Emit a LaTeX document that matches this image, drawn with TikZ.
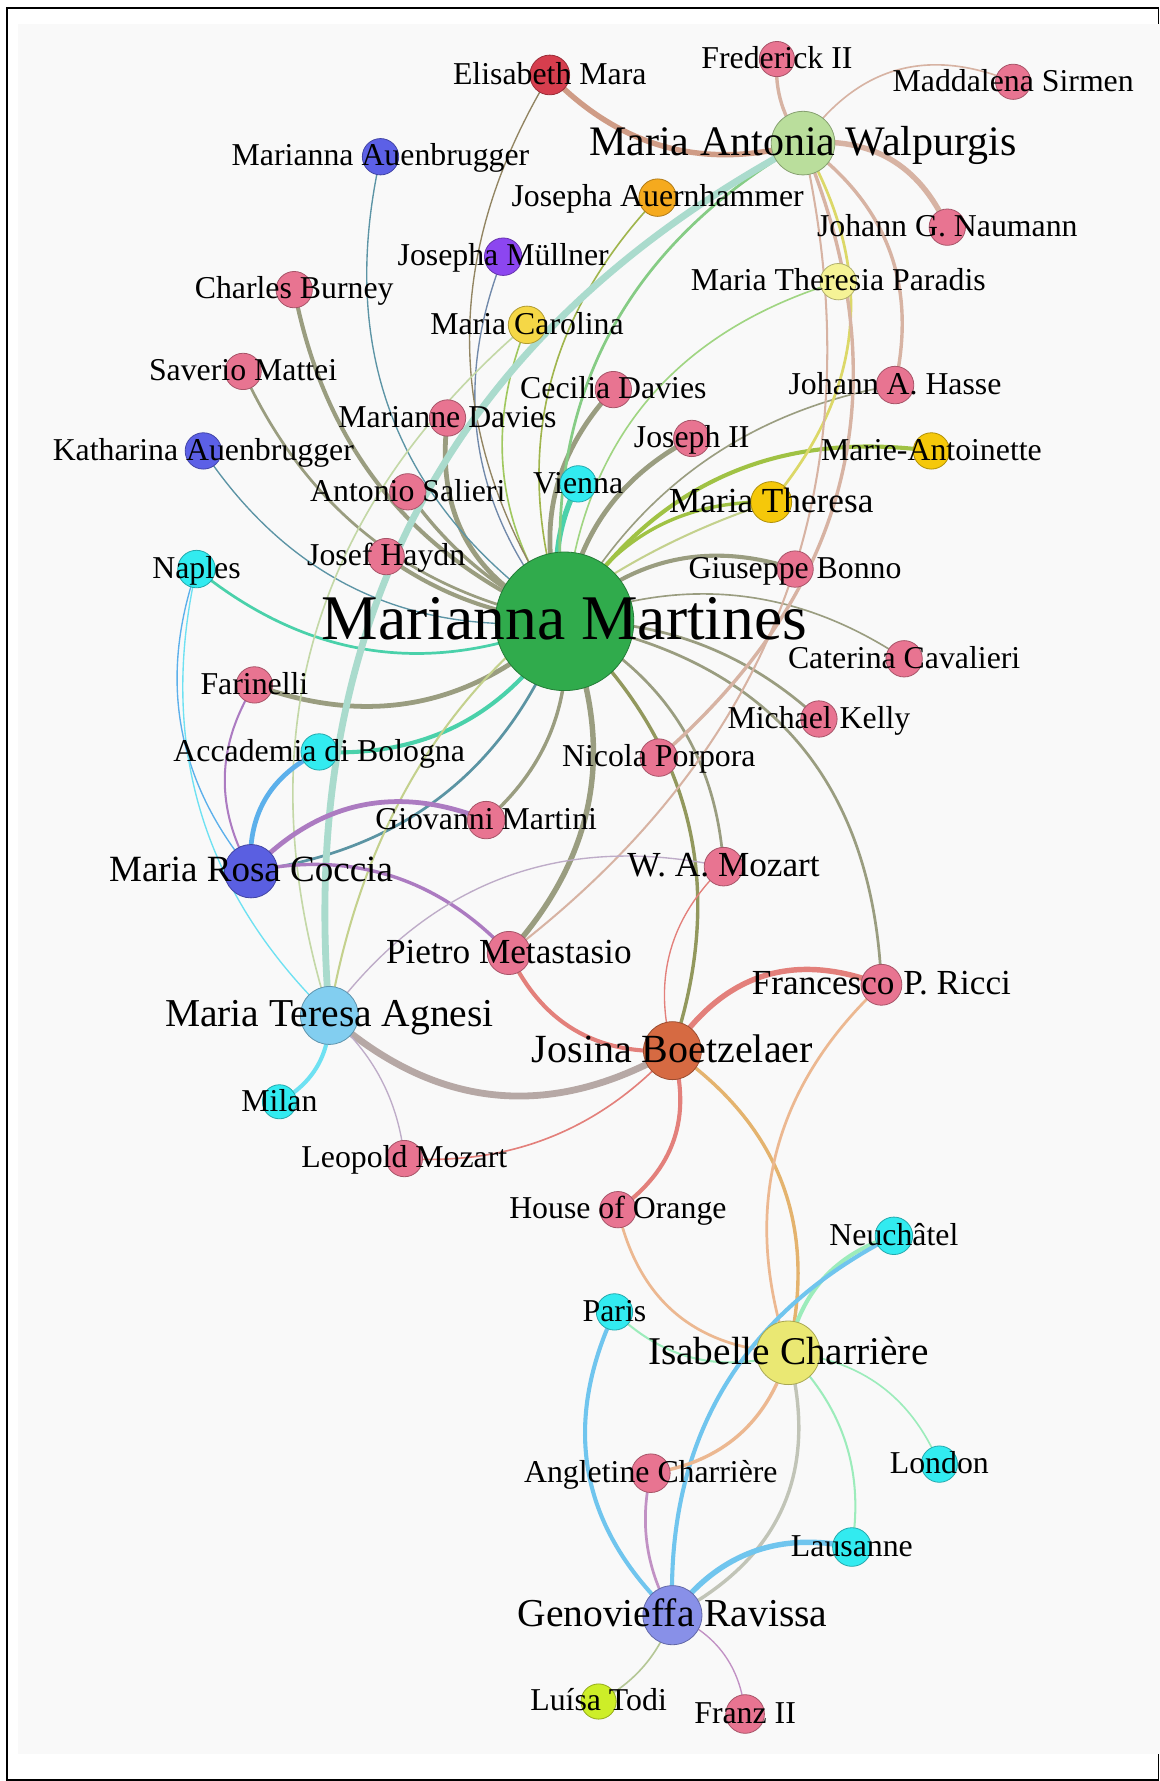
\documentclass[tikz,border=0pt]{standalone}
\usepackage{fontspec}
\setmainfont{Liberation Serif}
\usetikzlibrary{calc}
\pgfdeclarelayer{bg}\pgfdeclarelayer{edges}\pgfdeclarelayer{labels}
\pgfsetlayers{bg,edges,main,labels}

% node colours
\definecolor{cMM}{RGB}{48,171,76}
\definecolor{cPink}{RGB}{232,116,145}
\definecolor{cMAW}{RGB}{186,222,156}
\definecolor{cMara}{RGB}{214,62,78}
\definecolor{cBlue}{RGB}{92,96,230}
\definecolor{cCoccia}{RGB}{90,95,225}
\definecolor{cPurple}{RGB}{140,70,240}
\definecolor{cAuern}{RGB}{245,170,30}
\definecolor{cParadis}{RGB}{245,243,150}
\definecolor{cMC}{RGB}{245,215,70}
\definecolor{cGold}{RGB}{245,200,10}
\definecolor{cCyan}{RGB}{50,235,240}
\definecolor{cAgnesi}{RGB}{130,206,240}
\definecolor{cBoetz}{RGB}{214,106,66}
\definecolor{cChar}{RGB}{234,232,115}
\definecolor{cRav}{RGB}{136,144,232}
\definecolor{cTodi}{RGB}{205,238,40}
\definecolor{bgc}{RGB}{249,249,249}

\tikzset{
  vert/.style={circle, inner sep=0pt, line width=0.35pt},
  lab/.style={inner sep=0pt, text depth=0pt, text=black},
}

% \vtx{name}{x}{y}{radius}{colour}{font size}{label}
\newcommand\vtx[7]{%
  \colorlet{k#1}{#5}%
  \node[vert, minimum size=#4pt, fill=#5, draw=#5!72!black] (#1) at (#2,#3) {};
  \begin{pgfonlayer}{labels}
    \node[lab, text height={0.58*#6pt}, font={\fontsize{#6pt}{#6pt}\selectfont}] (#1-t) at (#2,#3) {#7};
  \end{pgfonlayer}}

% \lnk{width}{from}{to}{bend}: arc between two nodes, colour mixed from both ends
\newcommand\lnk[4]{%
  \path ($(#2.center)!0.5!(#3.center)!4*#4!90:(#3.center)$) coordinate (q);
  \draw[line width=#1*0.6pt, draw=k#2!50!k#3!88!white]
    (#2.center) .. controls ($(#2.center)!0.6667!(q)$) and ($(#3.center)!0.6667!(q)$) .. (#3.center);}

\begin{document}
\begin{tikzpicture}[x=0.5pt, y=-0.5pt]
\useasboundingbox (0,0) rectangle (1021,1568);
\begin{pgfonlayer}{bg}
  \fill[white] (0,0) rectangle (1021,1568);
  \draw[line width=0.8pt] (6.5,7) rectangle (1020,1567);
  \fill[bgc] (16,21) rectangle (1021,1544);
\end{pgfonlayer}

% people, places and institutions
\vtx{mm}{497}{547}{61}{cMM}{28}{Marianna Martines}
\vtx{maw}{707}{126}{28}{cMAW}{18.5}{Maria Antonia Walpurgis}
\vtx{mara}{484}{66}{17.5}{cMara}{14}{Elisabeth Mara}
\vtx{fred}{684}{52}{15.5}{cPink}{14}{Frederick II}
\vtx{sirmen}{892}{72}{15.5}{cPink}{14}{Maddalena Sirmen}
\vtx{mauen}{335}{138}{16}{cBlue}{14}{Marianna Auenbrugger}
\vtx{auern}{579}{174}{16.5}{cAuern}{14}{Josepha Auernhammer}
\vtx{naumann}{834}{200}{16}{cPink}{14}{Johann G. Naumann}
\vtx{muell}{443}{226}{16.5}{cPurple}{14}{Josepha Müllner}
\vtx{paradis}{738}{248}{16}{cParadis}{14}{Maria Theresia Paradis}
\vtx{burney}{259}{255}{16}{cPink}{14}{Charles Burney}
\vtx{mcar}{464}{286}{16.5}{cMC}{14}{Maria Carolina}
\vtx{mattei}{214}{327}{16}{cPink}{14}{Saverio Mattei}
\vtx{cdavies}{540}{343}{16}{cPink}{14}{Cecilia Davies}
\vtx{hasse}{788}{339}{16.5}{cPink}{14}{Johann A. Hasse}
\vtx{mdavies}{394}{368}{16}{cPink}{14}{Marianne Davies}
\vtx{kauen}{179}{397}{16}{cBlue}{14}{Katharina Auenbrugger}
\vtx{joseph}{609}{386}{16}{cPink}{14}{Joseph II}
\vtx{mant}{820}{397}{16}{cGold}{14}{Marie-Antoinette}
\vtx{salieri}{359}{433}{16}{cPink}{14}{Antonio Salieri}
\vtx{vienna}{509}{426}{16}{cCyan}{14}{Vienna}
\vtx{mt}{679}{442}{18}{cGold}{15.5}{Maria Theresa}
\vtx{haydn}{340}{490}{16}{cPink}{14}{Josef Haydn}
\vtx{naples}{173}{501}{16.5}{cCyan}{14}{Naples}
\vtx{bonno}{700}{501}{16}{cPink}{14}{Giuseppe Bonno}
\vtx{caval}{796}{580}{16}{cPink}{14}{Caterina Cavalieri}
\vtx{farin}{224}{603}{16}{cPink}{14}{Farinelli}
\vtx{kelly}{721}{633}{16}{cPink}{14}{Michael Kelly}
\vtx{bologna}{281}{662}{16}{cCyan}{14}{Accademia di Bologna}
\vtx{porpora}{580}{667}{16.5}{cPink}{14}{Nicola Porpora}
\vtx{martini}{428}{722}{16.5}{cPink}{14}{Giovanni Martini}
\vtx{coccia}{221}{767}{23.5}{cCoccia}{16.3}{Maria Rosa Coccia}
\vtx{wamoz}{637}{763}{17}{cPink}{15.5}{W. A. Mozart}
\vtx{metas}{448}{839}{19}{cPink}{15.5}{Pietro Metastasio}
\vtx{ricci}{776}{867}{18}{cPink}{15.5}{Francesco P. Ricci}
\vtx{agnesi}{290}{894}{25.5}{cAgnesi}{17.4}{Maria Teresa Agnesi}
\vtx{boetz}{592}{925}{25.5}{cBoetz}{17.6}{Josina Boetzelaer}
\vtx{milan}{246}{970}{15}{cCyan}{14}{Milan}
\vtx{lmoz}{356}{1020}{16}{cPink}{14}{Leopold Mozart}
\vtx{orange}{544}{1065}{16}{cPink}{14}{House of Orange}
\vtx{neuch}{787}{1088}{16.5}{cCyan}{14}{Neuchâtel}
\vtx{paris}{541}{1155}{16}{cCyan}{14}{Paris}
\vtx{char}{694}{1191}{28}{cChar}{17.3}{Isabelle Charrière}
\vtx{london}{827}{1289}{16}{cCyan}{14}{London}
\vtx{angl}{573}{1297}{17}{cPink}{14}{Angletine Charrière}
\vtx{laus}{750}{1362}{17}{cCyan}{14}{Lausanne}
\vtx{rav}{592}{1422}{26}{cRav}{17.4}{Genovieffa Ravissa}
\vtx{todi}{527}{1498}{15.5}{cTodi}{14}{Luísa Todi}
\vtx{franz}{656}{1509}{17}{cPink}{14}{Franz II}

\begin{pgfonlayer}{edges}
% ties of Marianna Martines
\lnk{3}{burney}{mm}{-0.135}
\lnk{2}{mattei}{mm}{-0.13}
\lnk{3.5}{mdavies}{mm}{-0.19}
\lnk{2.5}{salieri}{mm}{-0.07}
\lnk{3}{haydn}{mm}{-0.07}
\lnk{3.5}{mm}{cdavies}{0.15}
\lnk{3.5}{mm}{joseph}{0.13}
\lnk{1.2}{mm}{hasse}{0.12}
\lnk{3}{mm}{bonno}{0.15}
\lnk{1.2}{mm}{caval}{0.13}
\lnk{2}{mm}{kelly}{0.1}
\lnk{2.5}{mm}{martini}{0.13}
\lnk{3.5}{farin}{mm}{-0.155}
\lnk{2}{mm}{wamoz}{0.14}
\lnk{4}{mm}{metas}{0.16}
\lnk{2}{mm}{ricci}{0.2}
\lnk{2.5}{mm}{boetz}{0.16}
\lnk{2.5}{mm}{mt}{0.15}
\lnk{3}{mm}{mant}{0.16}
\lnk{4}{mm}{vienna}{0.1}
\lnk{1.2}{mcar}{mm}{-0.14}
\lnk{1}{muell}{mm}{-0.15}
\lnk{1}{mauen}{mm}{-0.17}
\lnk{1}{kauen}{mm}{-0.15}
\lnk{1}{mara}{mm}{-0.16}
\lnk{2}{naples}{mm}{-0.15}
\lnk{3}{bologna}{mm}{-0.15}
\lnk{2}{coccia}{mm}{-0.15}
\lnk{2}{maw}{mm}{-0.165}
\lnk{1.2}{auern}{mm}{-0.15}
\lnk{1.2}{paradis}{mm}{-0.17}
% ties of Maria Antonia Walpurgis
\lnk{4}{maw}{mara}{0.15}
\lnk{2.5}{fred}{maw}{-0.1}
\lnk{1.2}{maw}{sirmen}{0.2}
\lnk{4}{maw}{naumann}{0.18}
\lnk{2.5}{maw}{hasse}{0.165}
\lnk{2}{maw}{mt}{0.175}
\lnk{2.5}{maw}{porpora}{0.18}
\lnk{1.5}{maw}{metas}{0.16}
\lnk{5}{maw}{agnesi}{-0.165}
% the remaining ties
\lnk{1.2}{mcar}{agnesi}{-0.165}
\lnk{1.5}{mt}{agnesi}{-0.15}
\lnk{1}{naples}{coccia}{-0.14}
\lnk{1}{naples}{agnesi}{-0.14}
\lnk{1.5}{farin}{coccia}{-0.15}
\lnk{3.5}{bologna}{coccia}{-0.17}
\lnk{3.5}{coccia}{martini}{0.17}
\lnk{2.5}{coccia}{metas}{0.14}
\lnk{3}{agnesi}{milan}{0.15}
\lnk{5}{agnesi}{boetz}{-0.18}
\lnk{1}{agnesi}{lmoz}{0.1}
\lnk{1}{agnesi}{wamoz}{0.16}
\lnk{3}{metas}{boetz}{-0.17}
\lnk{4}{boetz}{ricci}{0.2}
\lnk{3}{boetz}{orange}{0.18}
\lnk{1.2}{boetz}{lmoz}{0.12}
\lnk{1}{wamoz}{boetz}{-0.15}
\lnk{2.5}{boetz}{char}{0.17}
\lnk{2}{ricci}{char}{-0.16}
\lnk{2}{orange}{char}{-0.19}
\lnk{1.5}{paris}{char}{-0.15}
\lnk{3}{paris}{rav}{-0.18}
\lnk{3}{neuch}{char}{-0.15}
\lnk{3}{neuch}{rav}{-0.16}
\lnk{1.2}{char}{london}{0.15}
\lnk{1.5}{char}{laus}{0.13}
\lnk{2.5}{char}{angl}{0.16}
\lnk{2.5}{char}{rav}{0.2}
\lnk{2}{angl}{rav}{-0.1}
\lnk{4}{laus}{rav}{-0.16}
\lnk{1.2}{rav}{todi}{0.1}
\lnk{1}{rav}{franz}{0.15}
\end{pgfonlayer}
\end{tikzpicture}
\end{document}
